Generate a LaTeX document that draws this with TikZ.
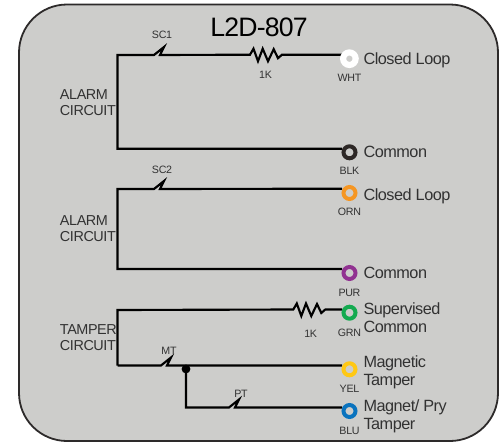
\documentclass[tikz,border=0pt]{standalone}
\usepackage{fontspec}
\setmainfont[LetterSpace=-3]{Liberation Sans}
\definecolor{panelgray}{RGB}{205,205,203}
\definecolor{framegray}{RGB}{45,42,42}
\definecolor{textgray}{RGB}{50,50,50}
\definecolor{blkring}{RGB}{45,40,38}
\definecolor{ornring}{RGB}{245,150,35}
\definecolor{purring}{RGB}{145,50,145}
\definecolor{grnring}{RGB}{20,170,80}
\definecolor{yelring}{RGB}{255,200,20}
\definecolor{bluring}{RGB}{10,115,190}
\tikzset{every picture/.style={line width=0.75pt},
  wire/.style={line width=1.6pt,black,line join=miter},
  terminal/.style={circle,line width=3pt,fill=panelgray,minimum size=9pt,inner sep=0pt},
  termlabel/.style={font=\fontsize{12.2}{13.5}\selectfont,text=textgray,anchor=west,inner sep=0pt,align=left},
  circuitlabel/.style={font=\fontsize{10.8}{12}\selectfont,text=textgray,anchor=west,inner sep=0pt,align=left},
  smalllabel/.style={font=\fontsize{8}{9}\selectfont,text=textgray,inner sep=0pt},
}
\newcommand{\switchsym}[1]{-- ++(10,-8) -- ++(-4,8) -- #1}
\newcommand{\resistorsym}[1]{-- ++(3.5,-6) -- ++(4.5,12.5) -- ++(4.7,-12.5) -- ++(5.3,12.5) -- ++(5.7,-12) -- ++(4.3,9) -- ++(4,-3.5) -- #1}
\begin{document}
\begin{tikzpicture}[x=0.75pt,y=0.75pt,yscale=-1,xscale=1]
\useasboundingbox (0,0) rectangle (501,443);

%panel
\draw [line width=1.35pt,draw=framegray,fill=panelgray,rounded corners=36pt] (19,4.5) rectangle (498,441);

%title
\node (title) at (259,27) [font=\fontsize{20}{20}\selectfont,text=black,inner sep=0pt] {L2D-807};

%corners of the wires
\coordinate (sc1) at (154,55);
\coordinate (sc2) at (154,189);
\coordinate (res1) at (250,54.7);
\coordinate (res2) at (293.3,309.5);
\coordinate (mt) at (161,365.5);
\coordinate (pt) at (229,407.5);
\coordinate (jct) at (186,365.5);
\coordinate (end1) at (342,54.7);
\coordinate (end2) at (342,148.7);
\coordinate (end3) at (342,188.7);
\coordinate (end4) at (342,269);
\coordinate (end5) at (342,309.5);
\coordinate (end6) at (342,365.5);
\coordinate (end7) at (342,407.5);
\coordinate (left1) at (117.5,55);
\coordinate (left2) at (117.5,189);
\coordinate (left3) at (117.5,310);

%wires
\draw [wire] (end2) -- (end2 -| left1) -- (left1) -- (sc1) \switchsym{(res1)} \resistorsym{(end1)};
\draw [wire] (end4) -- (end4 -| left2) -- (left2) -- (sc2) \switchsym{(end3)};
\draw [wire] (left3 |- mt) -- (left3) -- (res2) \resistorsym{(end5)};
\draw [wire] (left3 |- mt) -- (mt) \switchsym{(end6)};
\draw [wire] (jct) -- (jct |- pt) -- (pt) \switchsym{(end7)};
\node (dot) at (186,369) [circle,fill=black,minimum size=6.6pt,inner sep=0pt] {};

%terminals
\node (wht) at (349.4,58.7) [terminal,draw=white,line width=4.6pt,minimum size=9.4pt] {};
\node (blk) at (349.5,152.3) [terminal,draw=blkring] {};
\node (orn) at (349.5,193) [terminal,draw=ornring] {};
\node (pur) at (349.5,273) [terminal,draw=purring] {};
\node (grn) at (349.5,312.7) [terminal,draw=grnring] {};
\node (yel) at (349.5,369.3) [terminal,draw=yelring] {};
\node (blu) at (349.5,411) [terminal,draw=bluring] {};

%left labels
\node (alarm1) at (59.5,102.5) [circuitlabel] {ALARM\\CIRCUIT};
\node (alarm2) at (59.5,228.5) [circuitlabel] {ALARM\\CIRCUIT};
\node (tamper) at (59.5,337.7) [circuitlabel] {TAMPER\\CIRCUIT};

%switch and resistor labels
\node (sc1lab) at (162,35) [smalllabel] {SC1};
\node (sc2lab) at (162,169.5) [smalllabel] {SC2};
\node (mtlab) at (169,350.5) [smalllabel] {MT};
\node (ptlab) at (241,393.5) [smalllabel] {PT};
\node (r1lab) at (265.5,74.5) [smalllabel] {1K};
\node (r2lab) at (310.7,334) [smalllabel] {1K};

%wire colour labels
\node (whtlab) at (349.5,77.5) [smalllabel] {WHT};
\node (blklab) at (349.5,171) [smalllabel] {BLK};
\node (ornlab) at (349.5,212) [smalllabel] {ORN};
\node (purlab) at (349.5,292.5) [smalllabel] {PUR};
\node (grnlab) at (349.5,333) [smalllabel] {GRN};
\node (yellab) at (349.5,389) [smalllabel] {YEL};
\node (blulab) at (349.5,431) [smalllabel] {BLU};

%terminal labels
\node (t1) at (363,60) [termlabel] {Closed Loop};
\node (t2) at (363,152) [termlabel] {Common};
\node (t3) at (363,196) [termlabel] {Closed Loop};
\node (t4) at (363,273) [termlabel] {Common};
\node (t5) at (363,317.5) [termlabel] {Supervised\\Common};
\node (t6) at (363,372) [termlabel] {Magnetic\\Tamper};
\node (t7) at (363,416) [termlabel] {Magnet/ Pry\\Tamper};
\end{tikzpicture}
\end{document}
